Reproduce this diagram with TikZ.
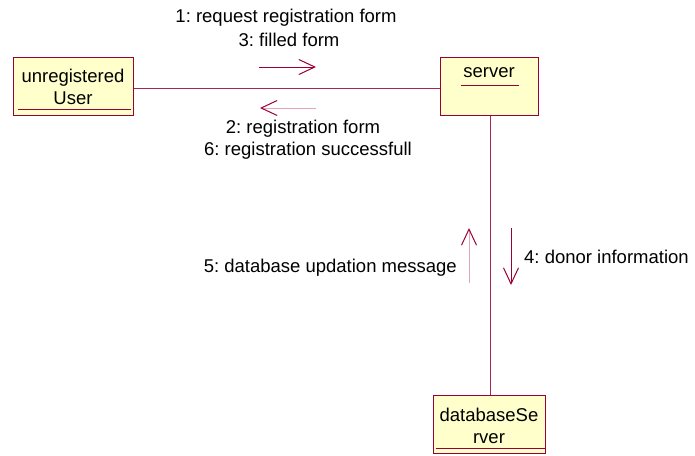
\documentclass[tikz,border=0pt]{standalone}
\usepackage{fontspec}
\setmainfont{Liberation Sans}
\frenchspacing
\usetikzlibrary{arrows.meta}
\definecolor{umlred}{HTML}{990033}
\definecolor{umlline}{HTML}{A82458}
\definecolor{umlpale}{HTML}{E6A4BA}
\definecolor{umlfill}{HTML}{FFFFCC}
\tikzset{
  objbox/.style={draw=umlred, fill=umlfill, line width=1pt, inner sep=0pt},
  objname/.style={inner sep=0pt, align=center, font=\fontsize{18.5}{22}\selectfont},
  uline/.style={draw=umlred, line width=0.8pt},
  link/.style={draw=umlline, line width=0.9pt},
  msg/.style={inner sep=0pt, align=center, font=\fontsize{18.5}{22}\selectfont},
  barb/.style={-{Straight Barb[length=16pt,width=15pt,line width=1pt,color=umlred]}, line width=1pt},
  darkmsg/.style={barb, draw=umlred},
  palemsg/.style={barb, draw=umlpale}
}
\begin{document}
\begin{tikzpicture}[x=1pt,y=-1pt]
\useasboundingbox (0,0) rectangle (695,455);

% objects
\node[objbox, minimum width=120pt, minimum height=58pt] (user) at (73,86) {};
\node[objbox, minimum width=98pt, minimum height=58pt] (server) at (489,86) {};
\node[objbox, minimum width=112pt, minimum height=58pt] (db) at (489,424) {};

\node[objname] (usertext) at (73,87) {unregistered\\User};
\node[objname] (servertext) at (489,73) {server};
\node[objname] (dbtext) at (489,426) {databaseSe\\rver};

% underlined object names
\draw[uline] ([xshift=5pt,yshift=6pt]user.south west) -- ([xshift=-3pt,yshift=6pt]user.south east);
\draw[uline] (461,85) -- (519,85);
\draw[uline] ([xshift=3pt,yshift=5pt]db.south west) -- ([xshift=-1pt,yshift=5pt]db.south east);

% links
\draw[link] ([yshift=-2pt]user.east) -- ([yshift=-2pt]server.west);
\draw[link] ([xshift=1pt]server.south) -- ([xshift=1pt]db.north);

% message arrows
\coordinate (m1s) at (259,67);  \coordinate (m1e) at (316,67);
\coordinate (m2s) at (316,108); \coordinate (m2e) at (260,108);
\coordinate (m5s) at (469,283); \coordinate (m5e) at (469,228);
\coordinate (m4s) at (511,228); \coordinate (m4e) at (511,285);
\draw[darkmsg] (m1s) -- (m1e);
\draw[palemsg] (m2s) -- (m2e);
\draw[palemsg] (m5s) -- (m5e);
\draw[darkmsg] (m4s) -- (m4e);

% message labels
\node[msg] (l1) at (286,18) {1: request registration form};
\node[msg] (l3) at (289,40) {3: filled form};
\node[msg] (l2) at (303,129) {2: registration form};
\node[msg] (l6) at (308,151) {6: registration successfull};
\node[msg, anchor=east] (l5) at (457,268) {5: database updation message};
\node[msg, anchor=west] (l4) at (524,257) {4: donor information};
\end{tikzpicture}
\end{document}
